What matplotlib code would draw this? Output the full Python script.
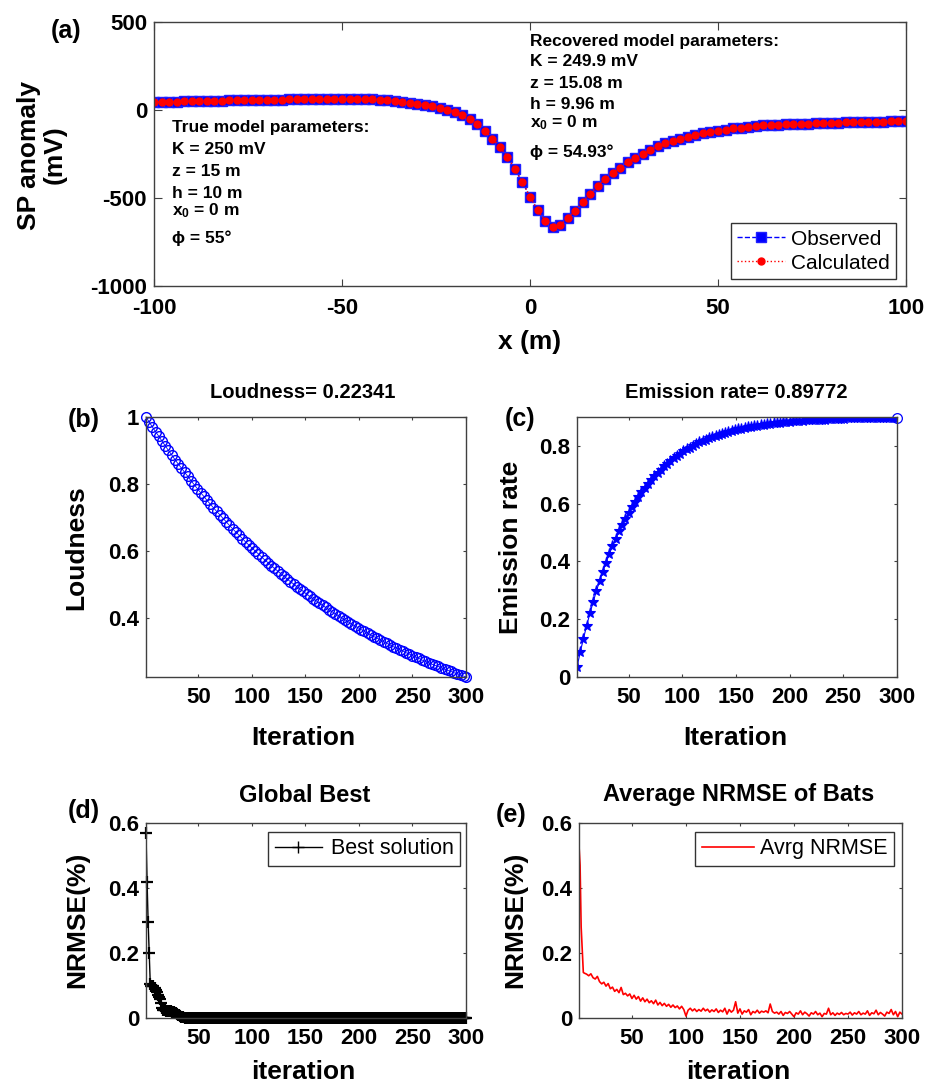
import matplotlib
matplotlib.use("Agg")
import matplotlib.pyplot as plt

plt.rcParams['font.family'] = ['Liberation Sans', 'DejaVu Sans']
plt.rcParams['mathtext.fontset'] = 'custom'
plt.rcParams['mathtext.rm'] = 'Liberation Sans:bold'
plt.rcParams['mathtext.it'] = 'Liberation Sans:bold'
plt.rcParams['mathtext.bf'] = 'Liberation Sans:bold'
plt.rcParams['axes.unicode_minus'] = False
plt.rcParams['path.simplify'] = False

# ---------------- data ----------------
# (a) SP anomaly profile
x_m = list(range(-100, 101, 2))
sp_observed = [45, 46, 47, 48, 49, 50, 51, 51.5, 52.5, 53, 54, 55, 55.5, 56.5, 57, 58,
               58.5, 59, 60, 60.5, 61, 61.5, 62, 62, 62.5, 62.5, 62.5, 62, 61.5, 60, 59,
               57, 53, 48, 42, 35, 28, 21, 12, 2, -12, -30, -53, -82, -118, -162, -210,
               -266, -336, -410, -493, -568, -628, -663, -653, -615, -572, -524, -477,
               -432, -393, -360, -327, -298, -272, -250, -226, -207, -190, -175, -162,
               -151, -141, -133, -125, -118, -111, -105, -100, -95, -90, -88, -86, -84,
               -82, -80, -78.5, -77, -75.5, -74, -73, -72, -70.5, -69.5, -68.5, -67.5,
               -66.5, -65.5, -64.5, -64, -63]
sp_calculated = list(sp_observed)

# (b) loudness
loud_iter = list(range(1, 299, 3)) + [300]
loudness = [1.000, 0.985, 0.970, 0.956, 0.942, 0.928, 0.914, 0.900, 0.887, 0.873,
            0.860, 0.848, 0.835, 0.823, 0.810, 0.798, 0.786, 0.774, 0.763, 0.751,
            0.740, 0.729, 0.718, 0.708, 0.697, 0.687, 0.676, 0.666, 0.656, 0.647,
            0.637, 0.627, 0.618, 0.609, 0.600, 0.591, 0.582, 0.573, 0.565, 0.556,
            0.548, 0.540, 0.532, 0.524, 0.516, 0.508, 0.501, 0.493, 0.486, 0.479,
            0.471, 0.464, 0.457, 0.451, 0.444, 0.437, 0.431, 0.424, 0.418, 0.412,
            0.406, 0.400, 0.394, 0.388, 0.382, 0.376, 0.371, 0.365, 0.360, 0.354,
            0.349, 0.344, 0.339, 0.334, 0.329, 0.324, 0.319, 0.314, 0.310, 0.305,
            0.301, 0.296, 0.292, 0.287, 0.283, 0.279, 0.274, 0.270, 0.266, 0.262,
            0.258, 0.255, 0.251, 0.247, 0.243, 0.240, 0.236, 0.233, 0.229, 0.226,
            0.22341]

# (c) emission rate
emis_iter = list(range(2, 300, 3)) + [300]
emission = [0.035, 0.086, 0.133, 0.178, 0.220, 0.259, 0.297, 0.332, 0.365, 0.396,
            0.425, 0.453, 0.479, 0.504, 0.527, 0.548, 0.569, 0.588, 0.606, 0.623,
            0.640, 0.655, 0.669, 0.683, 0.695, 0.707, 0.718, 0.729, 0.739, 0.748,
            0.757, 0.765, 0.773, 0.781, 0.788, 0.794, 0.800, 0.806, 0.812, 0.817,
            0.822, 0.826, 0.830, 0.835, 0.838, 0.842, 0.845, 0.849, 0.851, 0.854,
            0.857, 0.860, 0.862, 0.864, 0.866, 0.868, 0.870, 0.872, 0.873, 0.875,
            0.876, 0.878, 0.879, 0.880, 0.881, 0.883, 0.884, 0.885, 0.886, 0.886,
            0.887, 0.888, 0.889, 0.889, 0.890, 0.890, 0.891, 0.891, 0.892, 0.892,
            0.893, 0.893, 0.894, 0.894, 0.895, 0.895, 0.895, 0.896, 0.896, 0.896,
            0.896, 0.8962, 0.8965, 0.8967, 0.8969, 0.8970, 0.8972, 0.8974, 0.8975,
            0.8977, 0.89772]

# (d) global best NRMSE per iteration (1..300); flat at 0 after iteration 37
best_iter = list(range(1, 301))
best_nrmse = [0.568, 0.42, 0.295, 0.20, 0.105, 0.10, 0.10, 0.098, 0.092, 0.086,
              0.080, 0.072, 0.065, 0.058, 0.045, 0.030, 0.025, 0.024, 0.024, 0.023,
              0.023, 0.022, 0.022, 0.021, 0.020, 0.019, 0.018, 0.016, 0.014, 0.012,
              0.010, 0.008, 0.006, 0.004, 0.003, 0.002, 0.001] + [0.0] * 263

# (e) average NRMSE of bats
avg_iter = [1, 2, 3, 4, 5] + list(range(6, 301, 2))
avg_nrmse = [0.531, 0.47, 0.28, 0.21, 0.14,
             0.138, 0.135, 0.130, 0.136, 0.124, 0.120, 0.128, 0.112, 0.105, 0.110,
             0.098, 0.106, 0.090, 0.095, 0.082, 0.088, 0.078, 0.094, 0.072, 0.076,
             0.068, 0.074, 0.060, 0.070, 0.058, 0.066, 0.052, 0.062, 0.050, 0.058,
             0.047, 0.053, 0.044, 0.055, 0.040, 0.048, 0.038, 0.045, 0.036, 0.042,
             0.033, 0.040, 0.032, 0.037, 0.028, 0.036, 0.026, 0.006, 0.024, 0.030,
             0.022, 0.028, 0.020, 0.026, 0.021, 0.030, 0.022, 0.027, 0.018, 0.025,
             0.020, 0.028, 0.017, 0.024, 0.019, 0.030, 0.012, 0.026, 0.018, 0.024,
             0.050, 0.015, 0.028, 0.012, 0.022, 0.018, 0.026, 0.010, 0.020, 0.016,
             0.024, 0.015, 0.021, 0.018, 0.022, 0.016, 0.043, 0.020, 0.015, 0.018,
             0.012, 0.020, 0.008, 0.017, 0.014, 0.020, 0.012, 0.004, 0.016, 0.012,
             0.022, 0.010, 0.018, 0.013, 0.006, 0.016, 0.012, 0.020, 0.010, 0.015,
             0.004, 0.014, 0.012, 0.030, 0.010, 0.016, 0.008, 0.015, 0.011, 0.017,
             0.010, 0.014, 0.012, 0.018, 0.009, 0.016, 0.012, 0.020, 0.010, 0.015,
             0.012, 0.022, 0.008, 0.016, 0.013, 0.024, 0.010, 0.017, 0.012, 0.006,
             0.018, 0.014, 0.026, 0.010, 0.020, 0.004, 0.018, 0.012]

true_lines = ["True model parameters:", "K = 250 mV", "z = 15 m", "h = 10 m",
              "x$_0$ = 0 m", "\u03d5 = 55\u00b0"]
rec_lines = ["Recovered model parameters:", "K = 249.9 mV", "z = 15.08 m",
             "h = 9.96 m", "x$_0$ = 0 m", "\u03d5 = 54.93\u00b0"]

# ---------------- figure ----------------
W, H = 934, 1086
fig = plt.figure(figsize=(W / 100, H / 100), dpi=100)


def box(l, t, r, b):
    return [l / W, 1 - b / H, (r - l) / W, (b - t) / H]


def ftext(x, y, s, **kw):
    fig.text(x / W, 1 - y / H, s, ha='center', va='center', **kw)


FRAME = '0.25'
TICKFS = 16
LABFS = 19


def style(ax, ticklen, xpad=7, ypad=5):
    for sp in ax.spines.values():
        sp.set_color(FRAME)
        sp.set_linewidth(1.0)
    ax.tick_params(direction='in', top=True, right=True, length=ticklen,
                   width=0.8, color=FRAME, labelsize=TICKFS)
    ax.tick_params(axis='x', pad=xpad)
    ax.tick_params(axis='y', pad=ypad)
    for lab in ax.get_xticklabels() + ax.get_yticklabels():
        lab.set_fontweight('bold')


# (a)
axa = fig.add_axes(box(154, 22, 906, 286))
axa.plot(x_m, sp_observed, '--s', color='#0000ff', ms=7.3, mec='#2020ff', lw=1.0,
         label='Observed')
axa.plot(x_m, sp_calculated, ':o', color='#ff0000', ms=5, lw=1.0, label='Calculated')
axa.set_xlim(-100, 100)
axa.set_ylim(-1000, 500)
axa.set_xticks([-100, -50, 0, 50, 100])
axa.set_yticks([-1000, -500, 0, 500])
style(axa, 5.4, xpad=9, ypad=5)
ytrue = [-102, -227, -352, -472, -574, -727]
yrec = [392, 273, 153, 34, -74, -239]
for s, yv in zip(true_lines, ytrue):
    axa.text(-95.2, yv, s, fontsize=12.5, fontweight='bold', va='center', ha='left')
for s, yv in zip(rec_lines, yrec):
    axa.text(0.0, yv, s, fontsize=12.5, fontweight='bold', va='center', ha='left')
leg = axa.legend(loc='lower right', bbox_to_anchor=(0.9867, 0.0265), borderaxespad=0,
                 fontsize=15, frameon=True, fancybox=False, framealpha=1,
                 handlelength=2.3, handletextpad=0.3, labelspacing=0.25, borderpad=0.3)
leg.get_frame().set_edgecolor('0.2')
leg.get_frame().set_linewidth(1.0)
ftext(530, 342, 'x (m)', fontsize=LABFS, fontweight='bold')
ftext(42, 155, 'SP anomaly\n(mV)', fontsize=LABFS, fontweight='bold', rotation=90,
      linespacing=1.1)
ftext(66, 31, '(a)', fontsize=18, fontweight='bold')

# (b)
axb = fig.add_axes(box(146, 417, 466, 677))
axb.plot(loud_iter, loudness, '-o', color='#0000ff', mfc='none', ms=7, mew=1.0,
         lw=0.6, clip_on=False)
axb.set_xlim(1, 300)
axb.set_ylim(0.22341, 1)
axb.set_xticks([50, 100, 150, 200, 250, 300])
axb.set_yticks([0.4, 0.6, 0.8, 1])
axb.set_yticklabels(['0.4', '0.6', '0.8', '1'])
style(axb, 2.3)
ftext(303, 392, 'Loudness= 0.22341', fontsize=14.5, fontweight='bold')
ftext(76, 548, 'Loudness', fontsize=LABFS, fontweight='bold', rotation=90)
ftext(303, 738, 'Iteration', fontsize=LABFS, fontweight='bold')
ftext(84, 420, '(b)', fontsize=18, fontweight='bold')

# (c)
axc = fig.add_axes(box(577, 417, 897, 677))
axc.plot(emis_iter, emission, '-*', color='#0000ff', ms=8, mew=0.8, lw=0.8)
axc.plot(emis_iter[-1:], emission[-1:], 'o', color='#0000ff', mfc='none', ms=7,
         mew=0.9, clip_on=False)
axc.set_xlim(2, 300)
axc.set_ylim(0, 0.9)
axc.set_xticks([50, 100, 150, 200, 250, 300])
axc.set_yticks([0, 0.2, 0.4, 0.6, 0.8])
axc.set_yticklabels(['0', '0.2', '0.4', '0.6', '0.8'])
style(axc, 2.3)
ftext(736, 392, 'Emission rate= 0.89772', fontsize=14.5, fontweight='bold')
ftext(511, 547, 'Emission rate', fontsize=LABFS, fontweight='bold', rotation=90)
ftext(735, 738, 'Iteration', fontsize=LABFS, fontweight='bold')
ftext(520, 419, '(c)', fontsize=18, fontweight='bold')

# (d)
axd = fig.add_axes(box(146, 823, 466, 1018))
axd.plot(best_iter, best_nrmse, '-', color='black', lw=1.0, label='_nolegend_')
axd.plot(best_iter, best_nrmse, '+', color='black', ms=8, mew=1.6, clip_on=False,
         label='_nolegend_')
axd.plot([], [], '-+', color='black', ms=8, mew=1.0, lw=1.0, label='Best solution')
axd.set_xlim(1, 300)
axd.set_ylim(0, 0.6)
axd.set_xticks([50, 100, 150, 200, 250, 300])
axd.set_yticks([0, 0.2, 0.4, 0.6])
axd.set_yticklabels(['0', '0.2', '0.4', '0.6'])
style(axd, 2.3)
legd = axd.legend(loc='upper right', bbox_to_anchor=(0.981, 0.954), borderaxespad=0,
                  fontsize=15.5, frameon=True, fancybox=False, framealpha=1,
                  handlelength=2.2, handletextpad=0.4, borderpad=0.3)
legd.get_frame().set_edgecolor('0.2')
legd.get_frame().set_linewidth(1.0)
ftext(305, 795, 'Global Best', fontsize=17, fontweight='bold')
ftext(77, 920, 'NRMSE(%)', fontsize=LABFS, fontweight='bold', rotation=90)
ftext(303, 1072, 'iteration', fontsize=LABFS, fontweight='bold')
ftext(84, 811, '(d)', fontsize=18, fontweight='bold')

# (e)
axe = fig.add_axes(box(579, 823, 902, 1018))
axe.plot(avg_iter, avg_nrmse, '-', color='#ff0000', lw=1.2, label='Avrg NRMSE')
axe.set_xlim(1, 300)
axe.set_ylim(0, 0.6)
axe.set_xticks([50, 100, 150, 200, 250, 300])
axe.set_yticks([0, 0.2, 0.4, 0.6])
axe.set_yticklabels(['0', '0.2', '0.4', '0.6'])
style(axe, 2.3)
lege = axe.legend(loc='upper right', bbox_to_anchor=(0.975, 0.954), borderaxespad=0,
                  fontsize=15.5, frameon=True, fancybox=False, framealpha=1,
                  handlelength=2.4, handletextpad=0.3, borderpad=0.3)
lege.get_frame().set_edgecolor('0.2')
lege.get_frame().set_linewidth(1.0)
ftext(739, 795, 'Average NRMSE of Bats', fontsize=17, fontweight='bold')
ftext(515, 920, 'NRMSE(%)', fontsize=LABFS, fontweight='bold', rotation=90)
ftext(738, 1072, 'iteration', fontsize=LABFS, fontweight='bold')
ftext(511, 815, '(e)', fontsize=18, fontweight='bold')

fig.savefig('out.png', dpi=100)
